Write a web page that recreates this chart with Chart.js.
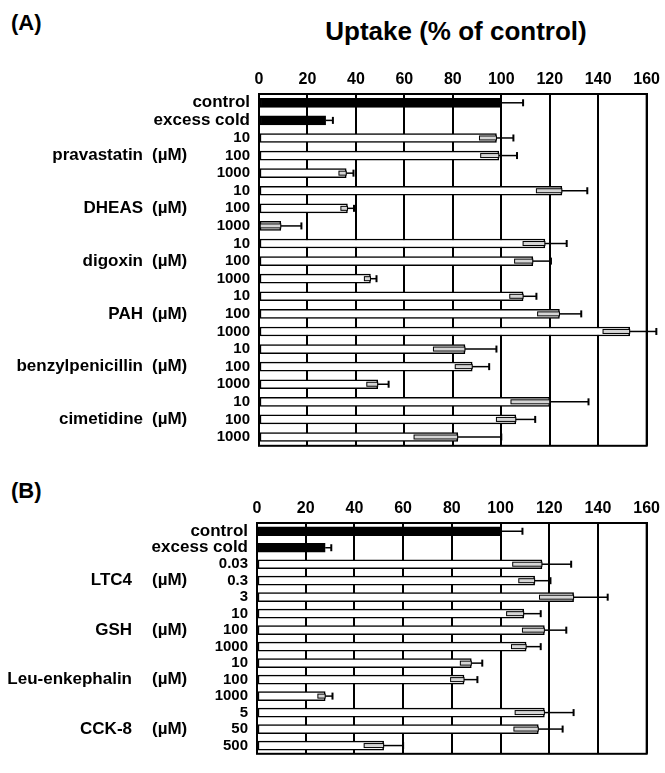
<!DOCTYPE html>
<html>
<head>
<meta charset="utf-8">
<script src="https://cdn.jsdelivr.net/npm/chart.js@4.4.1/dist/chart.umd.min.js"></script>
<style>
  body { margin: 0; background: #fff; }
  #wrap { position: relative; width: 665px; height: 773px; background: #fff; overflow: hidden; }
  canvas { position: absolute; left: 0; }
  .txt { position: absolute; font-family: 'Liberation Sans', Arial, sans-serif; font-weight: bold; color: #000; white-space: nowrap; }
</style>
</head>
<body>
<div id="wrap">
  <div class="txt" style="left:11px; top:10px; font-size:22px;">(A)</div>
  <div class="txt" style="left:296px; top:16px; width:320px; text-align:center; font-size:26px;">Uptake (% of control)</div>
  <canvas id="chartA" width="665" height="465" style="top:0"></canvas>
  <div class="txt" style="left:11px; top:478px; font-size:22px;">(B)</div>
  <canvas id="chartB" width="665" height="308" style="top:465px"></canvas>
</div>
<script>
// Panel A
const labelsA = ['control', 'excess cold', '10', '100', '1000', '10', '100', '1000', '10', '100', '1000',
    '10', '100', '1000', '10', '100', '1000', '10', '100', '1000'];
const meanA = [100, 27.5, 98, 99, 36, 125, 36.5, 9, 118, 113, 46, 109, 124, 153, 85, 88, 49, 120, 106, 82];
const errA = [9, 3, 7, 7.5, 3, 10.5, 2.7, 8.5, 9, 7.5, 2.5, 5.5, 9, 11, 13, 7, 4.5, 16, 8, 18];
const groupsA = ['pravastatin', 'DHEAS', 'digoxin', 'PAH', 'benzylpenicillin', 'cimetidine'];

// Panel B
const labelsB = ['control', 'excess cold', '0.03', '0.3', '3', '10', '100', '1000', '10', '100', '1000', '5', '50', '500'];
const meanB = [100, 28, 117, 114, 130, 109.5, 118, 110.5, 88, 85, 28, 118, 115.5, 52];
const errB = [9, 2.5, 12, 6.5, 14, 7, 9, 6, 4.5, 5.5, 3, 12, 10, 8];
const groupsB = ['LTC4', 'GSH', 'Leu-enkephalin', 'CCK-8'];

const FONT = "'Liberation Sans', Arial, sans-serif";

// frame round the plot area
const frame = {
    id: 'frame',
    afterDatasetsDraw(chart) {
        const { ctx, chartArea: a } = chart;
        ctx.save();
        ctx.strokeStyle = '#000';
        ctx.lineWidth = 2;
        ctx.strokeRect(a.left, a.top, a.right - a.left, a.bottom - a.top);
        ctx.restore();
    }
};

// error bars: inner box from mean-err to mean, whisker out to mean+err
const errorBars = {
    id: 'errorBars',
    afterDatasetsDraw(chart, args, opts) {
        const { ctx } = chart;
        const x = chart.scales.x;
        const meta = chart.getDatasetMeta(0);
        const means = chart.data.datasets[0].data;
        ctx.save();
        ctx.strokeStyle = '#000';
        meta.data.forEach((bar, i) => {
            const m = means[i];
            const e = opts.errs[i];
            const xm = x.getPixelForValue(m);
            const xlo = x.getPixelForValue(m - e);
            const xhi = x.getPixelForValue(m + e);
            const y = bar.y;
            if (i > 1) {
                ctx.fillStyle = '#d6d6d6';
                ctx.lineWidth = 1;
                ctx.fillRect(xlo, y - 2, xm - xlo, 4);
                ctx.strokeRect(xlo, y - 2, xm - xlo, 4);
            }
            ctx.lineWidth = 1.5;
            ctx.beginPath();
            ctx.moveTo(xm, y);
            ctx.lineTo(xhi, y);
            ctx.stroke();
            ctx.lineWidth = 2;
            ctx.beginPath();
            ctx.moveTo(xhi, y - 3.5);
            ctx.lineTo(xhi, y + 3.5);
            ctx.stroke();
        });
        ctx.restore();
    }
};

// compound names beside the middle row of each group
const groupLabels = {
    id: 'groupLabels',
    afterDraw(chart, args, opts) {
        const { ctx } = chart;
        const y = chart.scales.y;
        ctx.save();
        ctx.fillStyle = '#000';
        ctx.font = 'bold 17px ' + FONT;
        ctx.textBaseline = 'middle';
        opts.names.forEach((name, i) => {
            const py = y.getPixelForValue(2 + i * 3 + 1);
            ctx.textAlign = 'right';
            ctx.fillText(name, opts.right, py);
            ctx.textAlign = 'left';
            ctx.fillText('(\u00b5M)', 152, py);
        });
        ctx.restore();
    }
};

function makeChart(id, labels, means, errs, groups, nameRight, area, height) {
    return new Chart(document.getElementById(id), {
        type: 'bar',
        data: {
            labels: labels,
            datasets: [{
                data: means,
                backgroundColor: means.map((v, i) => i < 2 ? '#000' : '#fff'),
                borderColor: '#000',
                borderWidth: 1.5,
                borderSkipped: false,
                barThickness: 9
            }]
        },
        options: {
            indexAxis: 'y',
            responsive: false,
            animation: false,
            layout: {
                padding: { left: 0, top: 0, right: 665 - area.right, bottom: height - area.bottom }
            },
            scales: {
                x: {
                    position: 'top',
                    min: 0,
                    max: 160,
                    ticks: {
                        stepSize: 20,
                        color: '#000',
                        padding: 5,
                        font: { family: FONT, size: 16, weight: 'bold' }
                    },
                    grid: { color: '#000', lineWidth: 2, drawTicks: false },
                    border: { display: true, color: '#000', width: 2 },
                    afterFit: s => { s.height = area.top; }
                },
                y: {
                    ticks: {
                        color: '#000',
                        padding: 9,
                        autoSkip: false,
                        font: ctx => /^[\d.]+$/.test(ctx.tick.label)
                            ? { family: FONT, size: 15, weight: 'bold' }
                            : { family: FONT, size: 17, weight: 'bold' }
                    },
                    grid: { display: false, drawTicks: false },
                    border: { display: true, color: '#000', width: 2 },
                    afterFit: s => { s.width = area.left; }
                }
            },
            plugins: {
                legend: { display: false },
                tooltip: { enabled: false },
                errorBars: { errs: errs },
                groupLabels: { names: groups, right: nameRight }
            }
        },
        plugins: [frame, errorBars, groupLabels]
    });
}

makeChart('chartA', labelsA, meanA, errA, groupsA, 143,
    { left: 259, right: 651, top: 94, bottom: 456 }, 465);
makeChart('chartB', labelsB, meanB, errB, groupsB, 132,
    { left: 257, right: 650, top: 58, bottom: 306 }, 308);
</script>
</body>
</html>
